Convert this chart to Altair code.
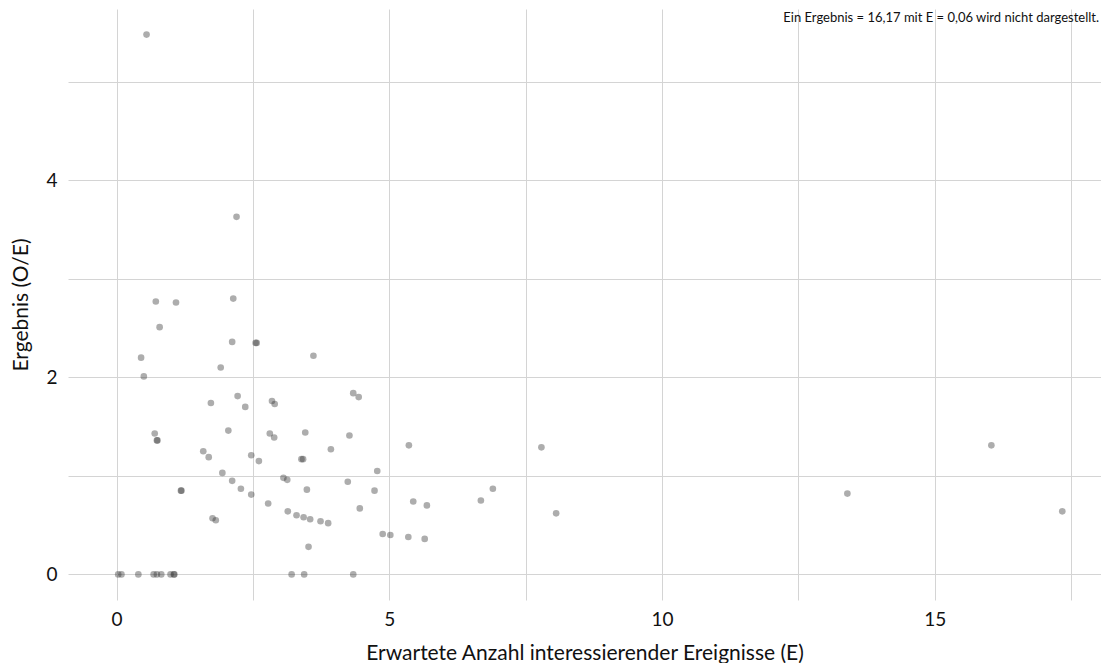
import altair as alt
import pandas as pd

# Expected number of events (E)
E = [0.55, 2.20,
     0.72, 1.09, 2.14, 0.79, 2.12, 2.55, 2.57,
     3.61, 0.45, 0.50, 1.91, 4.34, 4.44, 2.22, 1.73, 2.36, 2.85, 2.90,
     0.70, 0.74, 0.75, 2.05, 2.81, 2.89, 3.46, 4.27, 5.36, 1.59, 1.69,
     2.47, 2.61, 3.39, 3.42, 3.93, 4.78, 1.94, 3.06, 3.13, 2.12, 2.28,
     2.47, 1.18, 1.19, 3.49, 4.24, 4.73, 5.44, 5.69, 2.78, 4.46, 3.14,
     3.30, 3.43, 3.55, 3.74, 3.88, 1.76, 1.82, 3.52, 4.88, 5.02, 5.35, 5.65,
     7.79, 6.68, 6.90, 8.06,
     13.40, 16.04, 17.34,
     0.03, 0.09, 0.40, 0.68, 0.74, 0.82, 0.99, 1.05, 1.06, 3.21, 3.44, 4.34]
# Result (O/E)
OE = [5.48, 3.63,
      2.77, 2.76, 2.80, 2.51, 2.36, 2.35, 2.35,
      2.22, 2.20, 2.01, 2.10, 1.84, 1.80, 1.81, 1.74, 1.70, 1.76, 1.73,
      1.43, 1.36, 1.36, 1.46, 1.43, 1.39, 1.44, 1.41, 1.31, 1.25, 1.19,
      1.21, 1.15, 1.17, 1.17, 1.27, 1.05, 1.03, 0.98, 0.96, 0.95, 0.87,
      0.81, 0.85, 0.85, 0.86, 0.94, 0.85, 0.74, 0.70, 0.72, 0.67, 0.64,
      0.60, 0.58, 0.56, 0.54, 0.52, 0.57, 0.55, 0.28, 0.41, 0.40, 0.38, 0.36,
      1.29, 0.75, 0.87, 0.62,
      0.82, 1.31, 0.64,
      0, 0, 0, 0, 0, 0, 0, 0, 0, 0, 0, 0]

x_grid = [0, 2.5, 5, 7.5, 10, 12.5, 15, 17.5]
y_grid = [0, 1, 2, 3, 4, 5]
note = "Ein Ergebnis = 16,17 mit E = 0,06 wird nicht dargestellt."

df = pd.DataFrame({"E": E, "OE": OE})

W, H = 1033, 591
FONT = "Lato"

points = alt.Chart(df).mark_circle(size=44, color="#333333", opacity=0.4).encode(
    x=alt.X("E:Q",
            scale=alt.Scale(domain=[-0.89, 18.05], nice=False, zero=False),
            axis=alt.Axis(values=x_grid,
                          labelExpr="datum.value % 5 === 0 ? format(datum.value, 'd') : ''",
                          title="Erwartete Anzahl interessierender Ereignisse (E)",
                          titlePadding=13, labelPadding=10)),
    y=alt.Y("OE:Q",
            scale=alt.Scale(domain=[-0.26, 5.74], nice=False, zero=False),
            axis=alt.Axis(values=y_grid,
                          labelExpr="datum.value % 2 === 0 ? format(datum.value, 'd') : ''",
                          title="Ergebnis (O/E)",
                          titlePadding=14, labelPadding=11)),
)

text = alt.Chart(pd.DataFrame({"t": [note]})).mark_text(
    align="right", baseline="middle", font=FONT, fontSize=13, color="#111111"
).encode(x=alt.value(W - 2), y=alt.value(9), text="t:N")

chart = alt.layer(points, text).properties(
    width=W, height=H,
    autosize=alt.AutoSizeParams(type="none"),
    padding={"left": 60, "top": 1, "right": 0, "bottom": 63},
).configure_view(stroke=None).configure_axis(
    domain=False, ticks=False,
    grid=True, gridColor="#d4d4d4", gridWidth=1,
    labelFont=FONT, labelFontSize=19, labelColor="#111111",
    titleFont=FONT, titleFontSize=21, titleFontWeight="normal", titleColor="#111111",
)

chart.save("out.html", embed_options={"renderer": "svg", "actions": False})
